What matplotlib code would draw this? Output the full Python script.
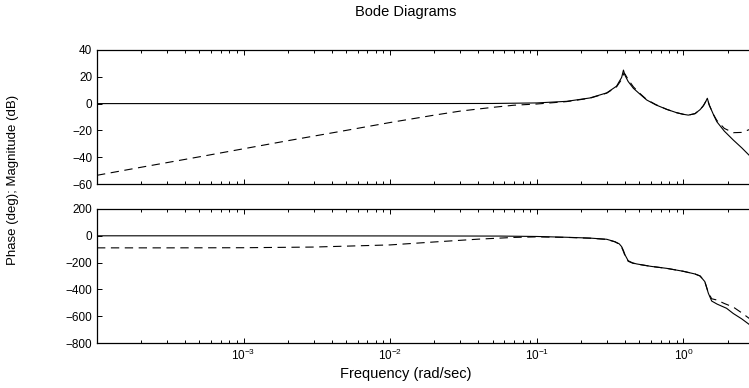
import matplotlib
matplotlib.use("Agg")
import matplotlib.pyplot as plt
from matplotlib.ticker import FixedLocator, NullFormatter, FuncFormatter

plt.rcParams['font.family'] = ['Liberation Sans', 'DejaVu Sans']
plt.rcParams['mathtext.fontset'] = 'custom'
plt.rcParams['mathtext.rm'] = 'Liberation Sans'
plt.rcParams['mathtext.it'] = 'Liberation Sans'
plt.rcParams['mathtext.default'] = 'regular'
plt.rcParams['lines.scale_dashes'] = False

# ---- data ----
w_mag_solid = [1e-4, 1e-3, 1e-2, 0.05, 0.1, 0.16, 0.23, 0.30, 0.35, 0.379, 0.39,
               0.40, 0.42, 0.456, 0.5, 0.562, 0.65, 0.77, 0.9, 1.0, 1.08, 1.2,
               1.3, 1.37, 1.42, 1.456, 1.5, 1.6, 1.69, 1.9, 2.19, 2.5, 2.8, 3.0]
mag_solid = [0, 0, 0, 0.1, 0.5, 1.7, 4.2, 8.0, 13.0, 19.5, 25.0,
             21.0, 16.5, 11.4, 7.5, 2.7, -1.0, -4.3, -6.8, -8.0, -8.6, -7.5,
             -4.5, -1.5, 1.5, 4.0, -1.0, -8.0, -13.5, -20.5, -27.2, -33.0, -38.4, -41.0]

w_mag_dash = [1e-4, 2e-4, 5e-4, 1e-3, 2e-3, 5e-3, 1e-2, 2e-2, 3e-2, 5e-2, 7e-2,
              0.1, 0.16, 0.23, 0.30, 0.35, 0.379, 0.392, 0.40, 0.42, 0.456, 0.5,
              0.562, 0.65, 0.77, 0.9, 1.0, 1.08, 1.2, 1.3, 1.37, 1.42, 1.456,
              1.5, 1.6, 1.69, 1.9, 2.19, 2.5, 2.8, 3.0]
mag_dash = [-53.5, -47.5, -39.7, -33.7, -27.7, -20.0, -14.1, -8.6, -5.6, -2.8, -1.2,
            -0.3, 1.5, 4.0, 7.8, 12.5, 18.0, 22.5, 22.0, 18.0, 12.5, 8.0,
            3.0, -0.8, -4.3, -6.8, -8.0, -8.6, -7.5, -4.5, -1.5, 1.5, 3.5,
            -1.0, -8.0, -12.5, -18.5, -21.7, -21.5, -19.5, -18.0]

w_ph_solid = [1e-4, 1e-3, 1e-2, 0.056, 0.1, 0.16, 0.23, 0.30, 0.341, 0.365, 0.379,
              0.39, 0.40, 0.42, 0.45, 0.48, 0.6, 0.77, 1.0, 1.2, 1.3, 1.4, 1.48,
              1.56, 1.7, 1.97, 2.19, 2.5, 2.8, 3.0]
ph_solid = [0, -0.2, -1, -2, -5, -11, -17, -26, -44, -60, -81,
            -110, -143, -186, -202, -210, -228, -243, -265, -285, -300, -342, -429,
            -487, -510, -541, -580, -620, -660, -685]

w_ph_dash = [1e-4, 3e-4, 1e-3, 3e-3, 1e-2, 2e-2, 4e-2, 7e-2, 0.1, 0.16, 0.23, 0.30,
             0.341, 0.365, 0.379, 0.39, 0.40, 0.42, 0.45, 0.48, 0.6, 0.77, 1.0,
             1.2, 1.3, 1.4, 1.48, 1.56, 1.69, 1.9, 2.19, 2.5, 2.8, 3.0]
ph_dash = [-90, -90, -89, -84, -68, -46, -25, -12, -8, -12, -18, -27,
           -45, -62, -85, -118, -150, -190, -204, -211, -228, -243, -265,
           -285, -300, -342, -425, -470, -479, -505, -532, -575, -615, -640]

mag_ticks = [-60, -40, -20, 0, 20, 40]
ph_ticks = [-800, -600, -400, -200, 0, 200]
x_major = [1e-3, 1e-2, 1e-1, 1e0]
x_labels = ['$10^{-3}$', '$10^{-2}$', '$10^{-1}$', '$10^{0}$']

W, H = 749, 388
fig = plt.figure(figsize=(W / 100, H / 100), dpi=100)

left_px, right_px = 97, 830
ax1 = fig.add_axes([left_px / W, 1 - 184 / H, (right_px - left_px) / W, 134 / H])
ax2 = fig.add_axes([left_px / W, 1 - 343 / H, (right_px - left_px) / W, 134 / H])

minor = [m * 10.0 ** e for e in range(-4, 1) for m in range(2, 10)]

for ax in (ax1, ax2):
    ax.set_xscale('log')
    ax.set_xlim(1e-4, 10)
    ax.xaxis.set_major_locator(FixedLocator(x_major + [1e-4, 10]))
    ax.xaxis.set_minor_locator(FixedLocator(minor))
    ax.xaxis.set_minor_formatter(NullFormatter())
    ax.tick_params(which='both', direction='in', top=True, right=True,
                   labelsize=8.5, width=0.7, pad=3.5)
    ax.tick_params(which='major', length=3.5)
    ax.tick_params(which='minor', length=2)
    for s in ax.spines.values():
        s.set_linewidth(0.9)

lab = {1e-3: x_labels[0], 1e-2: x_labels[1], 1e-1: x_labels[2], 1e0: x_labels[3]}

def fmt(v, pos):
    for k, t in lab.items():
        if abs(v - k) / k < 1e-6:
            return t
    return ''

ax1.xaxis.set_major_formatter(NullFormatter())
ax2.xaxis.set_major_formatter(FuncFormatter(fmt))

ax1.plot(w_mag_solid, mag_solid, color='black', lw=0.8)
ax1.plot(w_mag_dash, mag_dash, color='black', lw=0.8, linestyle=(0, (6, 4)))
ax1.set_ylim(-60, 40)
ax1.set_yticks(mag_ticks)
ax1.set_yticklabels(['\u221260', '\u221240', '\u221220', '0', '20', '40'])

ax2.plot(w_ph_solid, ph_solid, color='black', lw=0.8)
ax2.plot(w_ph_dash, ph_dash, color='black', lw=0.8, linestyle=(0, (6, 4)))
ax2.set_ylim(-800, 200)
ax2.set_yticks(ph_ticks)
ax2.set_yticklabels(['\u2212800', '\u2212600', '\u2212400', '\u2212200', '0', '200'])

fig.text(406 / W, 1 - 12 / H, 'Bode Diagrams', ha='center', va='center', fontsize=10.5)
fig.text(406 / W, 1 - 374 / H, 'Frequency (rad/sec)', ha='center', va='center', fontsize=10.5)
fig.text(13 / W, 1 - 180 / H, 'Phase (deg); Magnitude (dB)', ha='center', va='center',
         rotation=90, fontsize=9.5)

fig.savefig('out.png', dpi=100)
